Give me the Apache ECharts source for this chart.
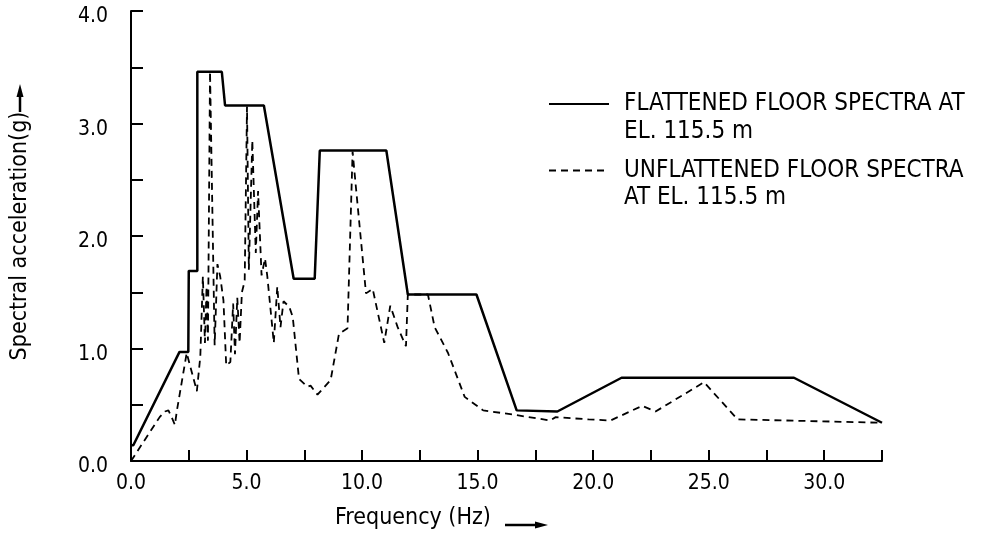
<!DOCTYPE html>
<html>
<head>
<meta charset="utf-8">
<title>Floor spectra</title>
<script src="https://cdn.jsdelivr.net/npm/echarts@6/dist/echarts.min.js"></script>
<style>
  html, body { margin: 0; padding: 0; background: #fff; }
  #chart { width: 983px; height: 537px; }
</style>
</head>
<body>
<div id="chart"></div>
<script>
// flattened spectrum (solid)
var freqFlat = [0, 0.1, 2.1, 2.48, 2.5, 2.87, 2.87, 3.93, 4.07, 5.75, 7.04, 7.95, 8.17, 11.05, 11.98, 14.95, 16.69, 18.45, 21.23, 28.69, 32.5];
var accFlat  = [0.14, 0.14, 0.97, 0.97, 1.69, 1.69, 3.46, 3.46, 3.16, 3.16, 1.62, 1.62, 2.76, 2.76, 1.48, 1.48, 0.45, 0.44, 0.74, 0.74, 0.34];

// unflattened spectrum (dashed)
var freqRaw = [0, 1.24, 1.47, 1.62, 1.76, 1.9, 1.98, 2.41, 2.85, 3.0,
  3.11, 3.2, 3.27, 3.33, 3.42, 3.62, 3.74, 3.86, 4.0, 4.12,
  4.3, 4.42, 4.5, 4.6, 4.7, 4.8, 4.92, 5.02, 5.1, 5.25,
  5.4, 5.5, 5.65, 5.8, 5.9, 6.18, 6.33, 6.47, 6.6, 6.85,
  7.0, 7.27, 7.63, 7.77, 8.07, 8.64, 9.0, 9.37, 9.59, 9.73,
  10.17, 10.46, 10.96, 11.22, 11.54, 11.9, 11.98, 12.85, 13.14, 13.72,
  14.44, 15.24, 16.62, 18.14, 18.38, 19.8, 20.75, 22.12, 22.7, 24.8,
  26.25, 32.5];
var accRaw = [0, 0.39, 0.44, 0.45, 0.39, 0.32, 0.44, 0.96, 0.62, 0.93,
  1.64, 1.05, 1.55, 1.07, 3.46, 1.03, 1.75, 1.64, 1.43, 0.85,
  0.88, 1.4, 0.95, 1.45, 1.05, 1.5, 1.6, 3.15, 1.7, 2.85,
  1.85, 2.4, 1.65, 1.8, 1.64, 1.05, 1.55, 1.19, 1.42, 1.37,
  1.28, 0.73, 0.66, 0.67, 0.59, 0.72, 1.13, 1.18, 2.75, 2.44,
  1.49, 1.53, 1.05, 1.38, 1.19, 1.02, 1.48, 1.48, 1.19, 0.96,
  0.57, 0.45, 0.41, 0.36, 0.39, 0.37, 0.36, 0.49, 0.44, 0.70,
  0.37, 0.34];

var nameFlat = 'FLATTENED FLOOR SPECTRA AT\nEL. 115.5 m';
var nameRaw = 'UNFLATTENED FLOOR SPECTRA\nAT EL. 115.5 m';

var FONT = '"DejaVu Sans Condensed", "DejaVu Sans", sans-serif';

function pairs(xs, ys) {
  var out = [];
  for (var i = 0; i < xs.length; i++) out.push([xs[i], ys[i]]);
  return out;
}

// legend entry: icon sits on the first text line, so an empty line is put above
function legendBlock(name, top, lh) {
  return {
    data: [name], left: 548, top: top, padding: 0,
    itemWidth: 60, itemHeight: 14,
    itemStyle: { opacity: 0 },
    formatter: function (n) { return '\n' + n; },
    textStyle: { fontFamily: FONT, fontSize: 24, lineHeight: lh, color: '#000', padding: [0, 0, 0, 10] }
  };
}

var myChart = echarts.init(document.getElementById('chart'));
var option = {
  backgroundColor: '#fff',
  animation: false,
  grid: { left: 131, right: 101, top: 11, bottom: 76 },
  legend: [legendBlock(nameFlat, 62, 28), legendBlock(nameRaw, 130, 27)],
  xAxis: {
    type: 'value',
    min: 0, max: 32.5, interval: 2.5,
    name: 'Frequency (Hz)',
    nameLocation: 'middle',
    nameGap: 46,
    nameTextStyle: { fontFamily: FONT, fontSize: 23, color: '#000', padding: [0, 187, 0, 0] },
    axisLine: { lineStyle: { color: '#000', width: 2 } },
    axisTick: { inside: true, length: 11, lineStyle: { color: '#000', width: 2 } },
    axisLabel: {
      fontFamily: FONT, fontSize: 21, color: '#000', margin: 12,
      formatter: function (v) { return v % 5 === 0 ? v.toFixed(1) : ''; }
    },
    splitLine: { show: false }
  },
  yAxis: {
    type: 'value',
    min: 0, max: 4, interval: 0.5,
    name: 'Spectral acceleration(g)',
    nameLocation: 'middle',
    nameGap: 99,
    nameTextStyle: { fontFamily: FONT, fontSize: 23, color: '#000' },
    axisLine: { lineStyle: { color: '#000', width: 2 } },
    axisTick: { inside: true, length: 12, lineStyle: { color: '#000', width: 2 } },
    axisLabel: {
      fontFamily: FONT, fontSize: 21, color: '#000', margin: 23,
      verticalAlign: 'top', lineHeight: 12,
      formatter: function (v) { return Number.isInteger(v) ? v.toFixed(1) : ''; }
    },
    splitLine: { show: false }
  },
  graphic: [
    // arrow next to the y axis name
    { type: 'line', shape: { x1: 20, y1: 112, x2: 20, y2: 94 }, style: { stroke: '#000', lineWidth: 2.5 } },
    { type: 'polygon', shape: { points: [[20, 84], [16.5, 97], [23.5, 97]] }, style: { fill: '#000' } },
    // arrow next to the x axis name
    { type: 'line', shape: { x1: 505, y1: 525, x2: 536, y2: 525 }, style: { stroke: '#000', lineWidth: 2.5 } },
    { type: 'polygon', shape: { points: [[548, 525], [535, 521.5], [535, 528.5]] }, style: { fill: '#000' } }
  ],
  series: [
    {
      name: nameFlat,
      type: 'line',
      symbol: 'none',
      lineStyle: { color: '#000', width: 2.5, type: 'solid' },
      itemStyle: { color: '#000' },
      data: pairs(freqFlat, accFlat)
    },
    {
      name: nameRaw,
      type: 'line',
      symbol: 'none',
      lineStyle: { color: '#000', width: 1.8, type: [7, 5] },
      itemStyle: { color: '#000' },
      data: pairs(freqRaw, accRaw)
    }
  ]
};
myChart.setOption(option);
</script>
</body>
</html>
